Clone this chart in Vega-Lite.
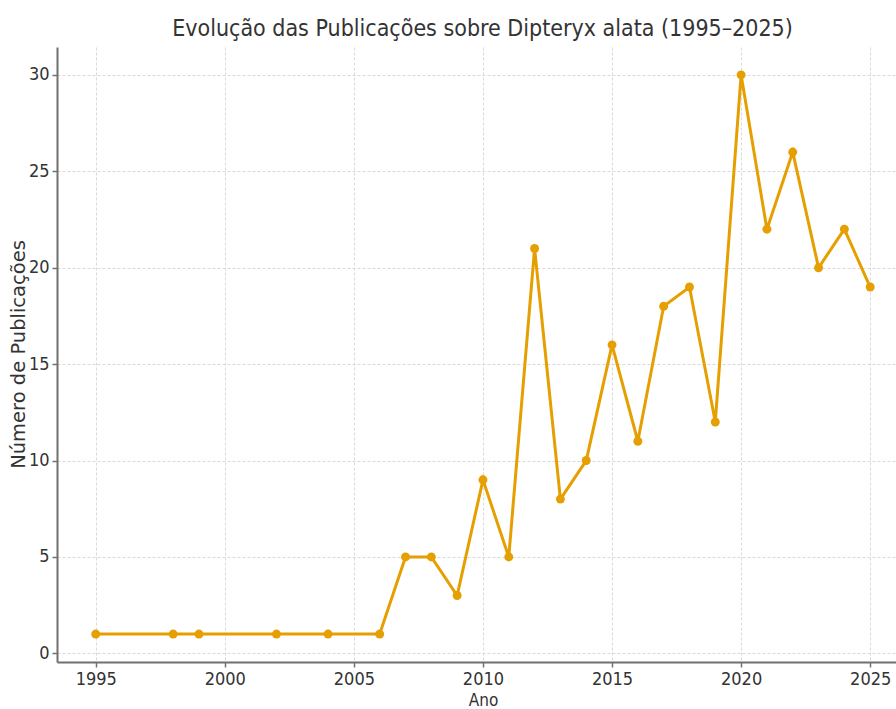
{
  "$schema": "https://vega.github.io/schema/vega-lite/v6.json",
  "width": 839,
  "height": 615,
  "autosize": {"type": "none"},
  "padding": {"left": 57, "top": 47, "right": 0, "bottom": 47},
  "background": "white",
  "title": {
    "text": "Evolução das Publicações sobre Dipteryx alata (1995–2025)",
    "font": "DejaVu Sans Condensed",
    "fontSize": 23,
    "fontWeight": "normal",
    "color": "#333333",
    "offset": 6,
    "dx": 6
  },
  "config": {
    "view": {"stroke": null},
    "axis": {
      "labelFont": "DejaVu Sans Condensed",
      "labelFontSize": 18,
      "labelColor": "#333333",
      "titleFont": "DejaVu Sans",
      "titleFontWeight": "normal",
      "titleColor": "#333333",
      "domainColor": "#707070",
      "domainWidth": 2,
      "tickColor": "#707070",
      "tickWidth": 1.5,
      "tickSize": 5,
      "gridColor": "#d9d9d9",
      "gridDash": [3, 2],
      "gridWidth": 1
    }
  },
  "data": {
    "values": [
      {"ano": 1995, "n": 1}, {"ano": 1998, "n": 1}, {"ano": 1999, "n": 1},
      {"ano": 2002, "n": 1}, {"ano": 2004, "n": 1}, {"ano": 2006, "n": 1},
      {"ano": 2007, "n": 5}, {"ano": 2008, "n": 5}, {"ano": 2009, "n": 3},
      {"ano": 2010, "n": 9}, {"ano": 2011, "n": 5}, {"ano": 2012, "n": 21},
      {"ano": 2013, "n": 8}, {"ano": 2014, "n": 10}, {"ano": 2015, "n": 16},
      {"ano": 2016, "n": 11}, {"ano": 2017, "n": 18}, {"ano": 2018, "n": 19},
      {"ano": 2019, "n": 12}, {"ano": 2020, "n": 30}, {"ano": 2021, "n": 22},
      {"ano": 2022, "n": 26}, {"ano": 2023, "n": 20}, {"ano": 2024, "n": 22},
      {"ano": 2025, "n": 19}
    ]
  },
  "mark": {
    "type": "line",
    "color": "#E69F00",
    "strokeWidth": 3,
    "clip": true,
    "point": {"filled": true, "size": 80, "color": "#E69F00"}
  },
  "encoding": {
    "x": {
      "field": "ano",
      "type": "quantitative",
      "scale": {"domain": [1993.5, 2026], "nice": false, "zero": false},
      "axis": {
        "title": "Ano",
        "titleFontSize": 17,
        "titleFont": "DejaVu Sans Condensed",
        "titlePadding": 4,
        "titleX": 426,
        "values": [1995, 2000, 2005, 2010, 2015, 2020, 2025],
        "format": "d",
        "labelPadding": 3
      }
    },
    "y": {
      "field": "n",
      "type": "quantitative",
      "scale": {"domain": [-0.45, 31.45], "nice": false, "zero": false},
      "axis": {
        "title": "Número de Publicações",
        "titleFontSize": 19.5,
        "titleX": -39,
        "titleY": 307,
        "titleAngle": -90,
        "titleAlign": "center",
        "titleBaseline": "middle",
        "values": [0, 5, 10, 15, 20, 25, 30],
        "labelPadding": 3
      }
    }
  }
}
